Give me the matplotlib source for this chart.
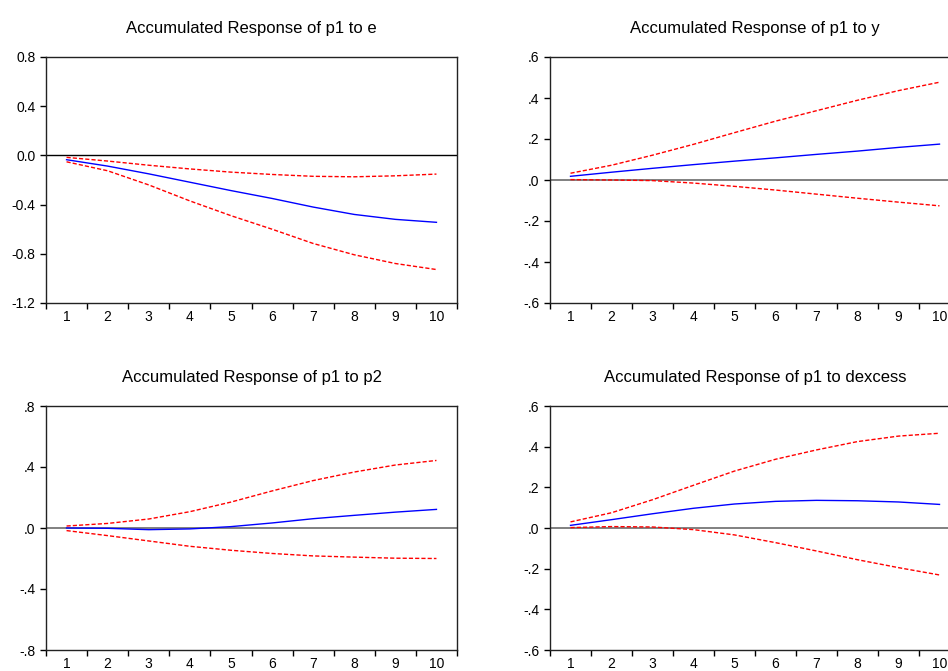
import numpy as np
import matplotlib
matplotlib.use("Agg")
import matplotlib.pyplot as plt
from matplotlib.ticker import FixedLocator

plt.rcParams["font.family"] = ["Liberation Sans", "DejaVu Sans"]

periods = np.arange(1, 11)

# p1 to e
e_resp = [-0.035, -0.087, -0.150, -0.218, -0.286, -0.350, -0.420, -0.480, -0.520, -0.544]
e_upper = [-0.016, -0.046, -0.080, -0.110, -0.136, -0.155, -0.170, -0.174, -0.166, -0.152]
e_lower = [-0.052, -0.125, -0.240, -0.370, -0.490, -0.600, -0.716, -0.808, -0.879, -0.928]

# p1 to y
y_resp = [0.018, 0.038, 0.057, 0.075, 0.092, 0.108, 0.125, 0.141, 0.159, 0.175]
y_upper = [0.033, 0.072, 0.121, 0.174, 0.231, 0.287, 0.338, 0.389, 0.436, 0.477]
y_lower = [0.002, 0.000, -0.003, -0.015, -0.031, -0.049, -0.069, -0.089, -0.108, -0.126]

# p1 to p2
p2_resp = [0.000, -0.002, -0.011, -0.006, 0.009, 0.033, 0.061, 0.083, 0.104, 0.122]
p2_upper = [0.013, 0.030, 0.059, 0.107, 0.170, 0.243, 0.311, 0.367, 0.413, 0.443]
p2_lower = [-0.017, -0.050, -0.085, -0.120, -0.146, -0.167, -0.183, -0.191, -0.198, -0.200]

# p1 to dexcess
d_resp = [0.013, 0.041, 0.070, 0.097, 0.118, 0.131, 0.136, 0.134, 0.128, 0.116]
d_upper = [0.030, 0.075, 0.139, 0.210, 0.280, 0.338, 0.384, 0.425, 0.452, 0.466]
d_lower = [0.002, 0.007, 0.005, -0.008, -0.034, -0.072, -0.113, -0.156, -0.195, -0.231]

panels = [
    ("Accumulated Response of p1 to e", e_resp, e_upper, e_lower,
     [-1.2, -0.8, -0.4, 0.0, 0.4, 0.8], ["-1.2", "-0.8", "-0.4", "0.0", "0.4", "0.8"]),
    ("Accumulated Response of p1 to y", y_resp, y_upper, y_lower,
     [-0.6, -0.4, -0.2, 0.0, 0.2, 0.4, 0.6], ["-.6", "-.4", "-.2", ".0", ".2", ".4", ".6"]),
    ("Accumulated Response of p1 to p2", p2_resp, p2_upper, p2_lower,
     [-0.8, -0.4, 0.0, 0.4, 0.8], ["-.8", "-.4", ".0", ".4", ".8"]),
    ("Accumulated Response of p1 to dexcess", d_resp, d_upper, d_lower,
     [-0.6, -0.4, -0.2, 0.0, 0.2, 0.4, 0.6], ["-.6", "-.4", "-.2", ".0", ".2", ".4", ".6"]),
]

W, H = 948, 671
# axes boxes in pixels: left, top, right, bottom
boxes = [(46, 57, 457, 303), (550, 57, 960, 303),
         (46, 406, 457, 650), (550, 406, 960, 650)]

fig = plt.figure(figsize=(W / 100, H / 100), dpi=100)

for i, (title, resp, upper, lower, yt, ytl) in enumerate(panels):
    l, t, r, b = boxes[i]
    ax = fig.add_axes([l / W, (H - b) / H, (r - l) / W, (b - t) / H])
    zero_color = "black" if i == 0 else "#808080"
    zero_lw = 1.0 if i == 0 else 1.4
    ax.axhline(0, color=zero_color, lw=zero_lw, zorder=1)
    ax.plot(periods, upper, color="red", lw=1.0, dashes=(3, 1.5), zorder=2)
    ax.plot(periods, lower, color="red", lw=1.0, dashes=(3, 1.5), zorder=2)
    ax.plot(periods, resp, color="blue", lw=1.0, zorder=3)
    ax.set_xlim(0.5, 10.5)
    ax.set_ylim(yt[0], yt[-1])
    ax.set_yticks(yt)
    ax.set_yticklabels(ytl)
    ax.set_xticks(periods)
    ax.set_xticklabels([str(p) for p in periods])
    ax.xaxis.set_minor_locator(FixedLocator(np.arange(0.5, 11, 1.0)))
    ax.tick_params(axis="x", which="major", length=0, pad=5, labelsize=10)
    ax.tick_params(axis="x", which="minor", length=4, width=1, direction="out")
    ax.tick_params(axis="y", which="major", length=4.5, width=1, direction="out",
                   pad=3, labelsize=10)
    for s in ax.spines.values():
        s.set_linewidth(1.0)
        s.set_color("#222222")
    ax.set_title(title, fontsize=12, pad=17)

fig.savefig("out.png", dpi=100)
